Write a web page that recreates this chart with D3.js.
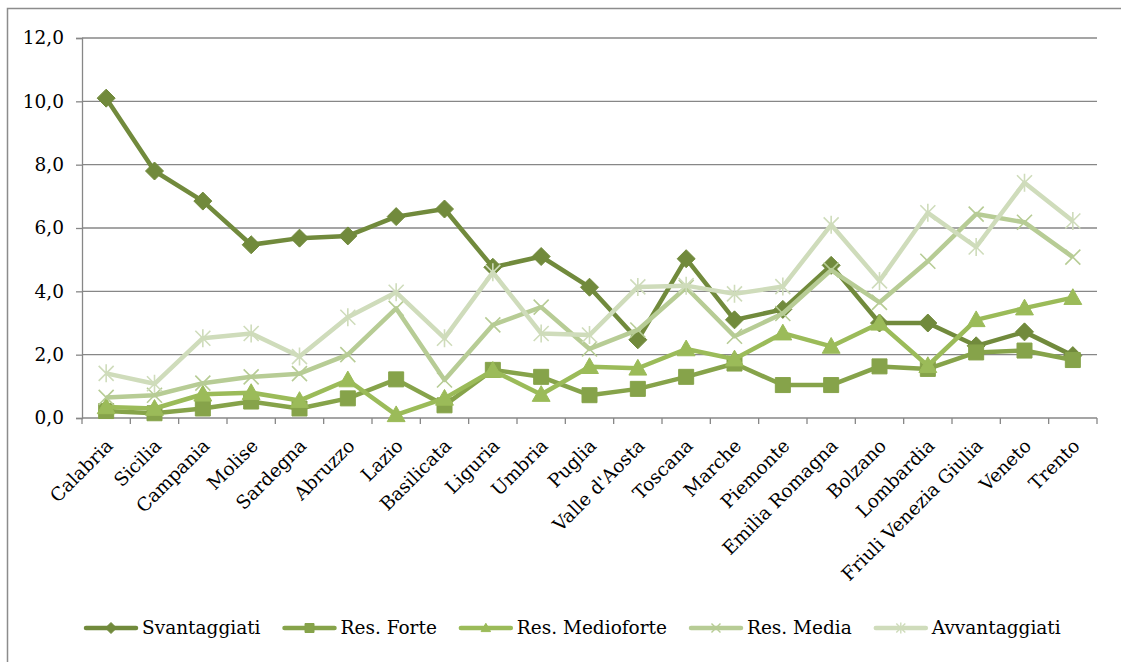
<!DOCTYPE html>
<html><head><meta charset="utf-8">
<script src="https://cdn.jsdelivr.net/npm/d3@7"></script>
<style>
body{margin:0;background:#fff}
svg{display:block}
text{font-family:"DejaVu Serif",serif;fill:#000}
</style>
</head><body>
<svg id="c" width="1121" height="662"></svg>
<script>
const categories = ["Calabria","Sicilia","Campania","Molise","Sardegna","Abruzzo","Lazio","Basilicata","Liguria","Umbria","Puglia","Valle d'Aosta","Toscana","Marche","Piemonte","Emilia Romagna","Bolzano","Lombardia","Friuli Venezia Giulia","Veneto","Trento"];
const svantaggiati = [10.1,7.8,6.85,5.47,5.68,5.75,6.36,6.6,4.76,5.1,4.13,2.47,5.03,3.1,3.43,4.82,3.0,3.0,2.28,2.72,1.97];
const resForte = [0.22,0.15,0.3,0.52,0.3,0.62,1.22,0.4,1.52,1.3,0.72,0.92,1.3,1.72,1.04,1.04,1.63,1.55,2.07,2.13,1.83];
const resMedioforte = [0.35,0.3,0.75,0.8,0.55,1.2,0.1,0.62,1.5,0.74,1.62,1.57,2.18,1.86,2.68,2.26,2.99,1.65,3.1,3.47,3.8];
const resMedia = [0.65,0.72,1.1,1.3,1.4,2.0,3.46,1.2,2.94,3.5,2.18,2.78,4.12,2.58,3.3,4.67,3.65,4.95,6.44,6.18,5.08];
const avvantaggiati = [1.41,1.08,2.52,2.67,1.94,3.18,3.97,2.52,4.6,2.67,2.62,4.14,4.18,3.92,4.15,6.1,4.33,6.48,5.4,7.43,6.22];
const seriesNames = ["Svantaggiati","Res. Forte","Res. Medioforte","Res. Media","Avvantaggiati"];
const seriesColors = ["#718a3c","#86a34a","#9bbb59","#b7cc95","#cfdcbb"];
const seriesMarkers = ["diamond","square","triangle","x","star"];
const yTicks = [0,2,4,6,8,10,12];

const seriesData = [svantaggiati,resForte,resMedioforte,resMedia,avvantaggiati];
const svg = d3.select("#c");
const gray = "#878787";

// outer border
svg.append("rect").attr("x",7.5).attr("y",8.5).attr("width",1130).attr("height",670)
  .attr("fill","none").attr("stroke","#8c8c8c").attr("stroke-width",1.5);

const x = d3.scaleBand().domain(categories).range([82,1097]).padding(0);
const y = d3.scaleLinear().domain([0,12]).range([418,38]);

// gridlines
svg.append("g").selectAll("line").data(yTicks.filter(d=>d>0)).join("line")
  .attr("x1",82).attr("x2",1097).attr("y1",d=>y(d)).attr("y2",d=>y(d))
  .attr("stroke",gray).attr("stroke-width",1.3);

// y axis
const yAxis = svg.append("g").attr("transform","translate(82,0)")
  .call(d3.axisLeft(y).tickValues(yTicks).tickSize(6).tickPadding(12)
    .tickFormat(d=>d3.format(".1f")(d).replace(".",",")));
yAxis.select(".domain").attr("stroke",gray).attr("stroke-width",1.3);
yAxis.selectAll(".tick line").attr("stroke",gray).attr("stroke-width",1.3);
yAxis.selectAll("text").attr("font-family","DejaVu Serif").attr("font-size",18.5).attr("fill","#000");

// x axis
svg.append("line").attr("x1",82).attr("x2",1097).attr("y1",y(0)).attr("y2",y(0))
  .attr("stroke",gray).attr("stroke-width",1.3);
const edges = categories.map(c=>x(c)).concat([x.range()[1]]);
svg.append("g").selectAll("line").data(edges).join("line")
  .attr("x1",d=>d).attr("x2",d=>d).attr("y1",y(0)).attr("y2",y(0)+6)
  .attr("stroke",gray).attr("stroke-width",1.3);
svg.append("g").selectAll("text").data(categories).join("text")
  .attr("transform",d=>`translate(${x(d)+x.bandwidth()/2+8},447) rotate(-45)`)
  .attr("text-anchor","end").attr("font-size",18.5).text(d=>d);

function markerPath(type, s){
  switch(type){
    case "diamond": return `M0,${-s}L${s},0L0,${s}L${-s},0Z`;
    case "square": return `M${-s},${-s}H${s}V${s}H${-s}Z`;
    case "triangle": return `M0,${-s*1.05}L${s*1.05},${s*0.8}L${-s*1.05},${s*0.8}Z`;
    case "x": return `M${-s},${-s}L${s},${s}M${-s},${s}L${s},${-s}`;
    case "star": return `M${-s},${-s}L${s},${s}M${-s},${s}L${s},${-s}M0,${-s*1.2}V${s*1.2}`;
  }
}
const markerSize = {diamond:9,square:7.5,triangle:8.5,x:7.5,star:7.5};
const line = d3.line().x((d,i)=>x(categories[i])+x.bandwidth()/2).y(d=>y(d));

seriesData.forEach((vals,si)=>{
  const g = svg.append("g");
  const col = seriesColors[si], mk = seriesMarkers[si];
  g.append("path").datum(vals).attr("d",line).attr("fill","none")
    .attr("stroke",col).attr("stroke-width",4.5).attr("stroke-linejoin","round");
  const filled = mk==="diamond"||mk==="square"||mk==="triangle";
  g.selectAll("path.m").data(vals).join("path").attr("class","m")
    .attr("transform",(d,i)=>`translate(${x(categories[i])+x.bandwidth()/2},${y(d)})`)
    .attr("d",markerPath(mk,markerSize[mk]))
    .attr("fill",filled?col:"none").attr("stroke",col).attr("stroke-width",filled?1:1.6);
});

// legend
const lg = svg.append("g");
let lx = 84; const ly = 628;
seriesNames.forEach((n,si)=>{
  const col = seriesColors[si], mk = seriesMarkers[si];
  lg.append("line").attr("x1",lx+2).attr("x2",lx+52).attr("y1",ly).attr("y2",ly)
    .attr("stroke",col).attr("stroke-width",4.5).attr("stroke-linecap","round");
  const filled = mk==="diamond"||mk==="square"||mk==="triangle";
  lg.append("path").attr("transform",`translate(${lx+27},${ly})`)
    .attr("d",markerPath(mk,mk==="diamond"?5.5:4.5))
    .attr("fill",filled?col:"none").attr("stroke",col).attr("stroke-width",filled?1:1.4);
  const t = lg.append("text").attr("x",lx+58).attr("y",ly).attr("dy","0.35em")
    .attr("font-size",18.5).text(n);
  lx = lx + 58 + t.node().getComputedTextLength() + 22;
});
</script>
</body></html>
